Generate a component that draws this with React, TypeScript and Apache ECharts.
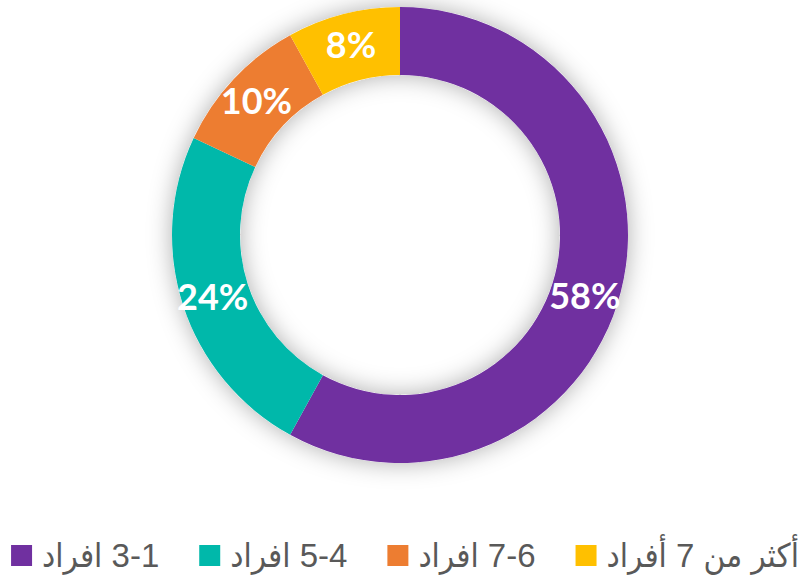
import React, { useEffect, useRef } from "react";
import * as echarts from "echarts";

const categories = ["3-1 افراد", "5-4 افراد", "7-6 افراد", "أكثر من 7 أفراد"];
const values = [58, 24, 10, 8];
const colors = ["#7030A0", "#00B8AA", "#ED7D31", "#FFC000"];

export default function App() {
  const ref = useRef<HTMLDivElement>(null);
  useEffect(() => {
    document.body.style.margin = "0";
    const chart = echarts.init(ref.current!, null, { renderer: "svg" });
    const data = categories.map((name, i) => ({
      name,
      value: values[i],
      itemStyle: { color: colors[i] },
      label: i === 0 ? { offset: [-6, 11] } : undefined,
    }));
    chart.setOption({
      animation: false,
      legend: {
        data: categories,
        left: "center",
        top: 539,
        width: 810,
        padding: 0,
        itemWidth: 21,
        itemHeight: 21,
        itemGap: 40,
        icon: "rect",
        formatter: (name: string) => "\u200F" + name,
        textStyle: {
          color: "#595959",
          fontSize: 33,
          fontFamily: "'Liberation Sans', 'DejaVu Sans Condensed', 'DejaVu Sans', sans-serif",
          padding: [0, 0, 0, 5],
        },
      },
      series: [
        {
          type: "pie",
          silent: true,
          center: [400, 235],
          radius: [160, 228],
          startAngle: 90,
          label: { show: false },
          labelLine: { show: false },
          itemStyle: {
            color: "#ffffff",
            shadowBlur: 24,
            shadowColor: "rgba(0,0,0,0.32)",
          },
          data: [{ name: "_bg", value: 1 }],
          z: 1,
        },
        {
          type: "pie",
          center: [400, 235],
          radius: [160, 228],
          startAngle: 90,
          clockwise: true,
          avoidLabelOverlap: false,
          label: {
            show: true,
            position: "inside",
            formatter: "{c}%",
            color: "#ffffff",
            fontSize: 36,
            fontWeight: "bold",
            fontFamily: "Lato, 'Open Sans', sans-serif",
          },
          labelLine: { show: false },
          emphasis: { disabled: true },
          data,
          z: 2,
        },
      ],
    });
    return () => chart.dispose();
  }, []);
  return <div ref={ref} style={{ width: 810, height: 581 }} />;
}
